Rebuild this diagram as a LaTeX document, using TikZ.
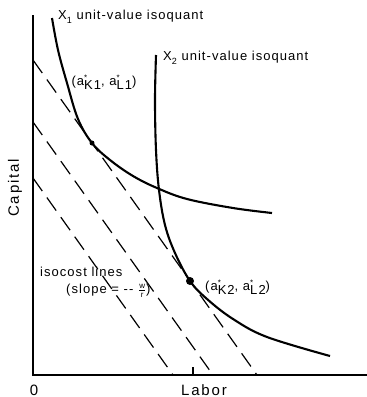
\documentclass[tikz,border=0pt]{standalone}
\usepackage{fontspec}
\setmainfont{Liberation Sans}
\newfontfamily\lblfont{Liberation Sans}[LetterSpace=8]
\newfontfamily\bigfont{Liberation Sans}[LetterSpace=12]
\newcommand{\astr}[1]{a\rlap{\raisebox{0.8ex}{\footnotesize *}}\raisebox{-0.55ex}{#1}}
\tikzset{
  axisline/.style={line width=1.6pt},
  isoq/.style={line width=2.1pt},
  isocost/.style={line width=1.2pt, dash pattern=on 16pt off 8pt},
  lbl/.style={font=\lblfont\fontsize{13}{15}\selectfont, inner sep=0pt},
  biglbl/.style={font=\bigfont\fontsize{15}{17}\selectfont, inner sep=0pt},
  tdot/.style={circle, fill=black, inner sep=0pt, minimum size=#1}
}
\begin{document}
\begin{tikzpicture}[x=1pt,y=-1pt]
\useasboundingbox (0,0) rectangle (367,397);
% axes
\coordinate (O) at (33,375);
\coordinate (ytop) at (33,15);
\coordinate (xend) at (367,375);
\coordinate (tickb) at (193,375);
\coordinate (tickt) at (193,367);
\draw[axisline] (ytop) -- (O) -- (xend);
\draw[line width=1.2pt] (tickb) -- (tickt);
% isocost lines
\coordinate (c1a) at (33,60);  \coordinate (c1b) at (257,375);
\coordinate (c2a) at (33,122); \coordinate (c2b) at (213,375);
\coordinate (c3a) at (33,178); \coordinate (c3b) at (173,375);
\draw[isocost] (c1a) -- (c1b);
\draw[isocost] (c2a) -- (c2b);
\draw[isocost] (c3a) -- (c3b);
% isoquants
\draw[isoq] plot[smooth, tension=0.6] coordinates {(52,18) (58,50) (67,83) (78,119) (92,143) (110,160) (133,176) (157,188) (187,199) (233,208) (272,213)};
\draw[isoq] plot[smooth, tension=0.6] coordinates {(156,55) (155,100) (156,150) (159,190) (165,225) (175,253) (190,281) (207,299) (233,319) (267,337) (330,356)};
% tangency points
\node[tdot=5pt] (t1) at (92,143) {};
\node[tdot=8pt] (t2) at (190,281) {};
% labels
\node[lbl, anchor=west] (l1) at (58,17) {X\raisebox{-0.5ex}{\small 1} unit-value isoquant};
\node[lbl, anchor=west] (l2) at (163,58) {X\raisebox{-0.5ex}{\small 2} unit-value isoquant};
\node[lbl, anchor=center] (p1) at (104,82) {(\astr{K1}, \astr{L1})};
\node[lbl, anchor=west] (p2) at (205,287) {(\astr{K2}, \astr{L2})};
\node[lbl, anchor=west] (iso) at (40,272) {isocost lines};
\node[lbl, anchor=west] (slope) at (66,291) {(slope = -- $\frac{\mbox{\lblfont\footnotesize w}}{\mbox{\lblfont\footnotesize r}}$)};
\node[biglbl, rotate=90] (cap) at (15,188) {Capital};
\node[biglbl] (zero) at (34,390) {0};
\node[biglbl] (lab) at (204,390) {Labor};
\end{tikzpicture}
\end{document}
